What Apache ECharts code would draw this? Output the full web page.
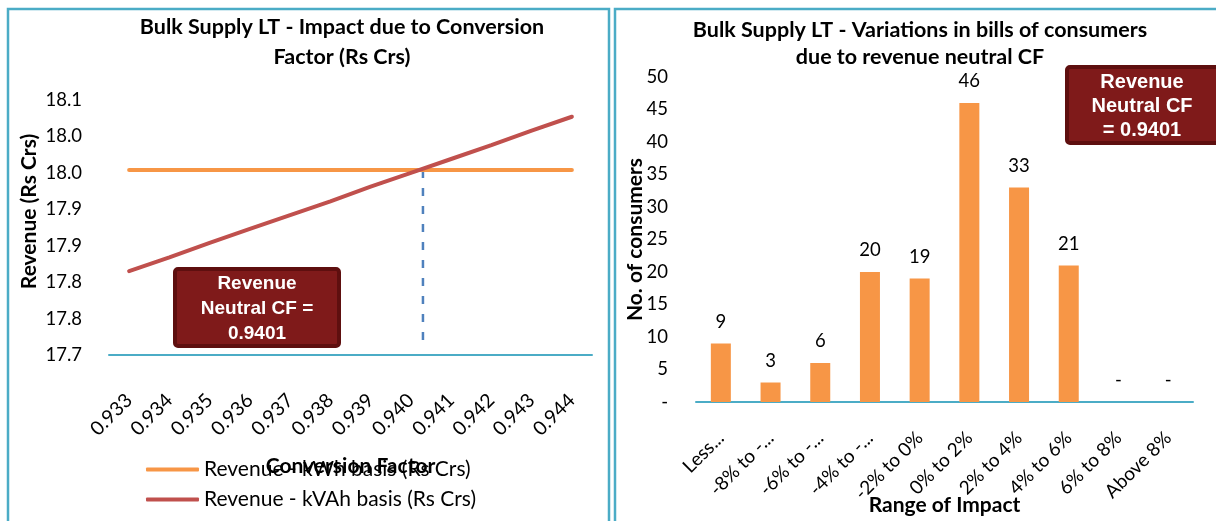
<!DOCTYPE html>
<html><head><meta charset="utf-8">
<script src="https://cdn.jsdelivr.net/npm/echarts@6/dist/echarts.min.js"></script>
<style>html,body{margin:0;padding:0;background:#fff}#c{width:1216px;height:521px}</style>
</head><body><div id="c"></div>
<script>
// Left chart data
const cfCategories = ['0.933','0.934','0.935','0.936','0.937','0.938','0.939','0.940','0.941','0.942','0.943','0.944'];
const revenueKwh = [17.954,17.954,17.954,17.954,17.954,17.954,17.954,17.954,17.954,17.954,17.954,17.954];
const revenueKvah = [17.815,17.834,17.854,17.873,17.892,17.911,17.931,17.950,17.969,17.988,18.008,18.027];
const leftTickLabels = ['17.7','17.8','17.8','17.9','17.9','18.0','18.0','18.1'];
const neutralLineX = [0.9403,0.9403];
const neutralLineY = [17.954,17.71];
// Right chart data
const impactCategories = ['Less...','-8% to -...','-6% to -...','-4% to -...','-2% to 0%','0% to 2%','2% to 4%','4% to 6%','6% to 8%','Above 8%'];
const consumerCounts = [9,3,6,20,19,46,33,21,0,0];
const rightTickLabels = ['-','5','10','15','20','25','30','35','40','45','50'];

const FONT = 'Lato';
const TEAL = '#4bacc6';
const chart = echarts.init(document.getElementById('c'));
chart.setOption({
  backgroundColor: '#fff',
  animation: false,
  textStyle: {fontFamily: FONT},
  title: [
    {text: 'Bulk Supply LT - Impact due to Conversion\nFactor (Rs Crs)', left: 337, top: 7, textAlign: 'center',
     textStyle: {fontFamily: FONT, fontSize: 21.5, fontWeight: 'bold', color: '#000', lineHeight: 30}},
    {text: 'Bulk Supply LT - Variations in bills of consumers\ndue to revenue neutral CF', left: 915, top: 12, textAlign: 'center',
     textStyle: {fontFamily: FONT, fontSize: 21.5, fontWeight: 'bold', color: '#000', lineHeight: 27}}
  ],
  legend: {
    data: ['Revenue - kWh basis (Rs Crs)', 'Revenue - kVAh basis (Rs Crs)'],
    orient: 'vertical', left: 141, top: 454, itemWidth: 53, itemHeight: 4, itemGap: 9, icon: 'roundRect',
    textStyle: {fontFamily: FONT, fontSize: 21, color: '#000', lineHeight: 21}
  },
  grid: [
    {left: 109, right: 624, top: 100, bottom: 166, outerBoundsMode: 'none'},
    {left: 696, right: 23, top: 77, bottom: 119, outerBoundsMode: 'none'}
  ],
  xAxis: [
    {type: 'category', gridIndex: 0, data: cfCategories, boundaryGap: true,
     axisLine: {lineStyle: {color: TEAL, width: 2}}, axisTick: {show: false},
     axisLabel: {rotate: 45, margin: 42, fontSize: 19.5, color: '#000', fontFamily: FONT, interval: 0},
     name: 'Conversion Factor', nameLocation: 'middle', nameGap: 101, nameMoveOverlap: false,
     nameTextStyle: {fontFamily: FONT, fontSize: 21, fontWeight: 'bold', color: '#000'}},
    {type: 'value', gridIndex: 0, min: 0.9325, max: 0.9445, show: false},
    {type: 'category', gridIndex: 1, data: impactCategories,
     axisLine: {lineStyle: {color: TEAL, width: 2}}, axisTick: {show: false},
     axisLabel: {rotate: 45, margin: 33, fontSize: 19, color: '#000', fontFamily: FONT, interval: 0},
     name: 'Range of Impact', nameLocation: 'middle', nameGap: 93, nameMoveOverlap: false,
     nameTextStyle: {fontFamily: FONT, fontSize: 21, fontWeight: 'bold', color: '#000'}}
  ],
  yAxis: [
    {type: 'value', gridIndex: 0, min: 17.7, max: 18.05, interval: 0.05,
     axisLine: {show: false}, axisTick: {show: false}, splitLine: {show: false},
     axisLabel: {fontSize: 18.5, color: '#000', fontFamily: FONT, margin: 27,
       formatter: v => leftTickLabels[Math.round((v - 17.7) / 0.05)] || ''},
     name: 'Revenue (Rs Crs)', nameLocation: 'middle', nameGap: 69, nameMoveOverlap: false,
     nameTextStyle: {fontFamily: FONT, fontSize: 21, fontWeight: 'bold', color: '#000', padding: [0, 0, 0, 32]}},
    {type: 'value', gridIndex: 1, min: 0, max: 50, interval: 5,
     axisLine: {show: false}, axisTick: {show: false}, splitLine: {show: false},
     axisLabel: {fontSize: 18.5, color: '#000', fontFamily: FONT, margin: 28,
       formatter: v => rightTickLabels[Math.round(v / 5)]},
     name: 'No. of consumers', nameLocation: 'middle', nameGap: 50, nameMoveOverlap: false,
     nameTextStyle: {fontFamily: FONT, fontSize: 21, fontWeight: 'bold', color: '#000'}}
  ],
  series: [
    {name: 'Revenue - kWh basis (Rs Crs)', type: 'line', xAxisIndex: 0, yAxisIndex: 0, data: revenueKwh,
     symbol: 'none', color: '#f79646', lineStyle: {width: 4, cap: 'round', color: '#f79646'}, z: 3},
    {name: 'Revenue - kVAh basis (Rs Crs)', type: 'line', xAxisIndex: 0, yAxisIndex: 0, data: revenueKvah,
     symbol: 'none', color: '#c0504d', lineStyle: {width: 4, cap: 'round', color: '#c0504d'}, z: 4},
    {name: 'neutral', type: 'line', xAxisIndex: 1, yAxisIndex: 0,
     data: neutralLineX.map((x, i) => [x, neutralLineY[i]]),
     symbol: 'none', lineStyle: {width: 2.5, type: [8, 10], color: '#4f81bd'}, z: 2},
    {name: 'consumers', type: 'bar', xAxisIndex: 2, yAxisIndex: 1, data: consumerCounts, barWidth: 20,
     itemStyle: {color: '#f79646'},
     label: {show: true, position: 'top', distance: 12, fontSize: 18.5, color: '#000', fontFamily: FONT,
       formatter: p => p.value === 0 ? '-' : String(p.value)}}
  ],
  graphic: [
    {type: 'rect', shape: {x: 8, y: 9, width: 601, height: 540}, style: {fill: 'none', stroke: TEAL, lineWidth: 2.5}, z: 10},
    {type: 'rect', shape: {x: 615, y: 9, width: 620, height: 540}, style: {fill: 'none', stroke: TEAL, lineWidth: 2.5}, z: 10},
    {type: 'rect', shape: {x: 175, y: 269, width: 164, height: 77, r: 3},
     style: {fill: '#7f1a1a', stroke: '#5e0f0f', lineWidth: 4}, z: 20},
    {type: 'text', x: 257, y: 309, z: 21,
     style: {text: 'Revenue\nNeutral CF =\n0.9401', fill: '#fff', font: 'bold 19px "Liberation Sans"', align: 'center', verticalAlign: 'middle', lineHeight: 25}},
    {type: 'rect', shape: {x: 1067, y: 67, width: 160, height: 76, r: 3},
     style: {fill: '#7f1a1a', stroke: '#5e0f0f', lineWidth: 4}, z: 20},
    {type: 'text', x: 1142, y: 106, z: 21,
     style: {text: 'Revenue\nNeutral CF\n= 0.9401', fill: '#fff', font: 'bold 20px "Liberation Sans"', align: 'center', verticalAlign: 'middle', lineHeight: 24}}
  ]
});
</script></body></html>
